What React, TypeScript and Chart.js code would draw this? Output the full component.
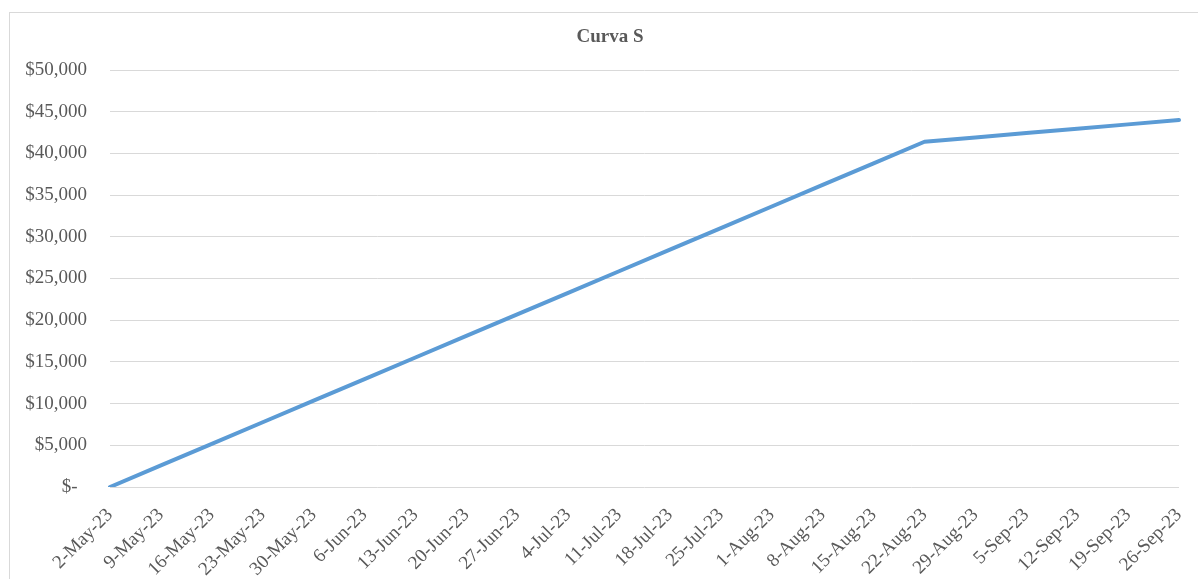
import React, { useEffect, useRef } from "react";
import { Chart, registerables } from "chart.js";

Chart.register(...registerables);

const title = "Curva S";

const dateLabels = [
  "2-May-23", "9-May-23", "16-May-23", "23-May-23", "30-May-23", "6-Jun-23",
  "13-Jun-23", "20-Jun-23", "27-Jun-23", "4-Jul-23", "11-Jul-23", "18-Jul-23",
  "25-Jul-23", "1-Aug-23", "8-Aug-23", "15-Aug-23", "22-Aug-23", "29-Aug-23",
  "5-Sep-23", "12-Sep-23", "19-Sep-23", "26-Sep-23",
];

const cumulativeCost = [
  0, 2590, 5175, 7760, 10350, 12940, 15525, 18110, 20700, 23285, 25870, 28460,
  31050, 33635, 36220, 38810, 41400, 41920, 42440, 42960, 43480, 44000,
];

const yMin = 0;
const yMax = 50000;
const yStep = 5000;

const FONT = "'Liberation Serif', 'Times New Roman', serif";

export default function App() {
  const canvasRef = useRef<HTMLCanvasElement | null>(null);

  useEffect(() => {
    const canvas = canvasRef.current;
    if (!canvas) return;

    const framePlugin = {
      id: "frame",
      beforeDraw(chart: any) {
        const ctx = chart.ctx;
        ctx.save();
        ctx.fillStyle = "#ffffff";
        ctx.fillRect(0, 0, chart.width, chart.height);
        ctx.strokeStyle = "#d9d9d9";
        ctx.lineWidth = 1;
        ctx.strokeRect(9.5, 12.5, 1400, 800);
        ctx.restore();
      },
      afterDraw(chart: any) {
        const ctx = chart.ctx;
        ctx.save();
        ctx.font = `bold 19px ${FONT}`;
        ctx.fillStyle = "#595959";
        ctx.textAlign = "center";
        ctx.textBaseline = "middle";
        ctx.fillText(title, 610, 37);
        ctx.restore();
      },
    };

    const chart = new Chart(canvas, {
      type: "line",
      data: {
        labels: dateLabels,
        datasets: [
          {
            label: title,
            data: cumulativeCost,
            borderColor: "#5b9bd5",
            backgroundColor: "#5b9bd5",
            borderWidth: 4,
            pointRadius: 0,
            tension: 0,
            fill: false,
            borderCapStyle: "round",
            borderJoinStyle: "round",
          },
        ],
      },
      options: {
        responsive: false,
        animation: false,
        layout: { padding: { left: 0, top: 70, right: 19, bottom: 0 } },
        plugins: {
          legend: { display: false },
          title: { display: false },
          tooltip: { enabled: false },
        },
        scales: {
          x: {
            grid: { display: false },
            border: { display: false },
            ticks: {
              color: "#595959",
              font: { family: FONT, size: 19 },
              autoSkip: false,
              minRotation: 45,
              maxRotation: 45,
              padding: 9,
            },
            afterFit(scale: any) {
              scale.height = 92;
              scale.paddingRight = 0;
              scale.paddingLeft = 0;
            },
          },
          y: {
            min: yMin,
            max: yMax,
            grid: { color: "#d9d9d9", lineWidth: 1, drawTicks: false },
            border: { display: false },
            ticks: {
              stepSize: yStep,
              color: "#595959",
              font: { family: FONT, size: 19 },
              padding: 23,
              callback: (v: any) =>
                Number(v) === 0 ? "$-  " : "$" + Number(v).toLocaleString("en-US"),
            },
            afterFit(scale: any) {
              scale.width = 110;
            },
          },
        },
      },
      plugins: [framePlugin],
    } as any);

    return () => chart.destroy();
  }, []);

  return (
    <div style={{ position: "absolute", left: 0, top: 0, width: 1198, height: 579 }}>
      <canvas ref={canvasRef} width={1198} height={579} style={{ width: 1198, height: 579 }} />
    </div>
  );
}
